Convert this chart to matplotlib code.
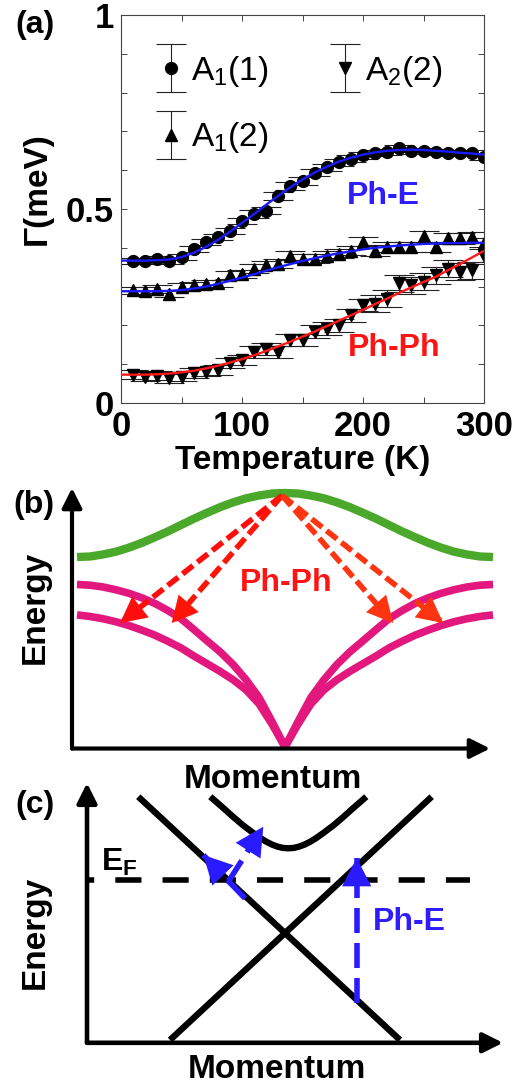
import matplotlib
matplotlib.use('Agg')
import matplotlib.pyplot as plt
from matplotlib.container import ErrorbarContainer
from matplotlib.legend_handler import HandlerErrorbar

plt.rcParams['font.family'] = ['Liberation Sans', 'DejaVu Sans']
plt.rcParams['mathtext.fontset'] = 'custom'
plt.rcParams['mathtext.rm'] = 'Liberation Sans'
plt.rcParams['mathtext.bf'] = 'Liberation Sans:bold'
plt.rcParams['mathtext.it'] = 'Liberation Sans:italic'

# ---------------- panel (a) data ----------------
temps = [10, 20, 30, 40, 50, 60, 70, 80, 90, 100, 110, 120, 130, 140, 150,
         160, 170, 180, 190, 200, 210, 220, 230, 240, 250, 260, 270, 280, 290, 300]

a1_1 = [0.367, 0.367, 0.372, 0.367, 0.376, 0.397, 0.415, 0.427, 0.444, 0.470,
        0.487, 0.496, 0.534, 0.560, 0.573, 0.594, 0.607, 0.620, 0.630, 0.638,
        0.644, 0.647, 0.656, 0.650, 0.650, 0.647, 0.645, 0.644, 0.644, 0.635]
a1_1_err = [0.008] * 10 + [0.010] * 10 + [0.008] * 10

a1_2 = [0.290, 0.288, 0.293, 0.282, 0.299, 0.303, 0.306, 0.308, 0.329, 0.333,
        0.346, 0.355, 0.359, 0.380, 0.372, 0.372, 0.380, 0.385, 0.393, 0.416,
        0.393, 0.402, 0.402, 0.402, 0.430, 0.402, 0.425, 0.425, 0.427, 0.412]
a1_2_err = [0.010] * 10 + [0.012] * 10 + [0.014] * 10

a2_2 = [0.073, 0.068, 0.070, 0.064, 0.068, 0.077, 0.081, 0.085, 0.103, 0.111,
        0.132, 0.139, 0.132, 0.162, 0.162, 0.184, 0.192, 0.200, 0.226, 0.252,
        0.256, 0.269, 0.308, 0.303, 0.312, 0.329, 0.346, 0.338, 0.342, 0.380]
a2_2_err = [0.012] * 10 + [0.016] * 10 + [0.022] * 10

fit_t = [0, 10, 20, 30, 40, 50, 60, 70, 80, 90, 100, 110, 120, 130, 140, 150,
         160, 170, 180, 190, 200, 210, 220, 230, 240, 250, 260, 270, 280, 290, 300]
fit_a1_1 = [0.367, 0.367, 0.367, 0.368, 0.370, 0.376, 0.387, 0.402, 0.420, 0.441,
            0.464, 0.487, 0.511, 0.534, 0.556, 0.576, 0.594, 0.609, 0.622, 0.632,
            0.640, 0.646, 0.650, 0.652, 0.653, 0.652, 0.650, 0.648, 0.645, 0.643, 0.640]
fit_a1_2 = [0.288, 0.288, 0.288, 0.288, 0.289, 0.291, 0.295, 0.300, 0.307, 0.315,
            0.323, 0.332, 0.341, 0.350, 0.358, 0.366, 0.373, 0.380, 0.386, 0.391,
            0.396, 0.400, 0.403, 0.406, 0.408, 0.410, 0.411, 0.412, 0.412, 0.413, 0.413]
fit_a2_2 = [0.073, 0.073, 0.073, 0.074, 0.076, 0.079, 0.083, 0.089, 0.096, 0.104,
            0.113, 0.123, 0.134, 0.146, 0.158, 0.171, 0.184, 0.198, 0.212, 0.226,
            0.240, 0.255, 0.269, 0.284, 0.298, 0.312, 0.325, 0.342, 0.358, 0.375, 0.392]

# ---------------- panel (b) schematic phonon bands (right half, mirrored) ----------------
k_half = [0.0, 0.0625, 0.125, 0.1875, 0.25, 0.3125, 0.375, 0.4375, 0.5,
          0.5625, 0.625, 0.6875, 0.75, 0.8125, 0.875, 0.9375, 1.0]
optical_half = [1.0, 0.998, 0.990, 0.979, 0.963, 0.944, 0.922, 0.899, 0.874,
                0.849, 0.826, 0.804, 0.785, 0.769, 0.758, 0.750, 0.748]
acoustic_hi_half = [0.0, 0.10, 0.195, 0.265, 0.325, 0.375, 0.418, 0.462, 0.505,
                    0.537, 0.565, 0.587, 0.605, 0.619, 0.630, 0.637, 0.640]
acoustic_lo_half = [0.0, 0.09, 0.17, 0.225, 0.265, 0.298, 0.328, 0.358, 0.39,
                    0.416, 0.44, 0.46, 0.478, 0.493, 0.505, 0.514, 0.520]
decay_start = (-0.014, 0.99)
decay_tips = [(-0.793, 0.488), (-0.545, 0.488), (0.52, 0.488), (0.761, 0.488)]
decay_colors = ['#ff0d0d', '#ff1408', '#ff3410', '#ff3410']

# ---------------- panel (c) schematic electron bands ----------------
dirac_1_k = [-1.487, 1.13]
dirac_1_e = [2.453, 0.02]
dirac_2_k = [-1.17, 1.447]
dirac_2_e = [0.02, 2.453]
upper_k = [-0.767, -0.637, -0.537, -0.437, -0.337, -0.267, -0.207, -0.147, -0.092,
           -0.042, 0.013, 0.068, 0.118, 0.173, 0.233, 0.293, 0.363, 0.463, 0.563,
           0.663, 0.793]
upper_e = [2.453, 2.34, 2.25, 2.165, 2.09, 2.04, 2.003, 1.973, 1.953,
           1.941, 1.937, 1.941, 1.953, 1.973, 2.003, 2.04, 2.09, 2.165, 2.25,
           2.34, 2.453]
fermi_level = 1.62
ph_e_arrows = [((0.697, 0.39), (0.697, 1.84)),
               ((-0.42, 1.437), (-0.837, 1.87)),
               ((-0.587, 1.603), (-0.237, 2.153))]

fig = plt.figure(figsize=(5.32, 10.84), dpi=100)
W, H = 532.0, 1084.0

# ================= (a) =================
axA = fig.add_axes([121 / W, 1 - 403 / H, 363 / W, 388 / H])
ebs = []
for y, err, m, lab in [(a1_1, a1_1_err, 'o', r'$\mathregular{A_1(1)}$'),
                       (a1_2, a1_2_err, '^', r'$\mathregular{A_1(2)}$'),
                       (a2_2, a2_2_err, 'v', r'$\mathregular{A_2(2)}$')]:
    eb = axA.errorbar(temps, y, yerr=err, fmt=m, color='k', ecolor='#222222',
                      ms=8.5, capsize=11, elinewidth=0.8, capthick=0.8,
                      label=lab, zorder=2)
    ebs.append(eb)
axA.plot(fit_t, fit_a1_1, color='#1a1aff', lw=1.7, zorder=3)
axA.plot(fit_t, fit_a1_2, color='#1a1aff', lw=1.7, zorder=3)
axA.plot(fit_t, fit_a2_2, color='#ff1a1a', lw=1.7, zorder=3)

axA.set_xlim(0, 300)
axA.set_ylim(0, 1)
axA.set_xticks([0, 100, 200, 300])
axA.set_xticks([50, 150, 250], minor=True)
axA.set_yticks([0, 0.5, 1])
axA.set_yticklabels(['0', '0.5', '1'])
axA.set_yticks([0.1, 0.2, 0.3, 0.4, 0.6, 0.7, 0.8, 0.9], minor=True)
axA.tick_params(which='both', direction='in', top=True, right=True,
                length=4, width=0.7, color='#444444')
axA.tick_params(axis='both', labelsize=25, pad=5)
for lbl in axA.get_xticklabels() + axA.get_yticklabels():
    lbl.set_fontweight('bold')
for sp in axA.spines.values():
    sp.set_linewidth(0.8)
    sp.set_color('#444444')

axA.text(217, 0.534, 'Ph-E', color='#2f1dff', fontsize=23, fontweight='bold',
         ha='center', va='center')
axA.text(226, 0.142, 'Ph-Ph', color='#ff1414', fontsize=23, fontweight='bold',
         ha='center', va='center')

axA.legend(handles=ebs, ncol=2, loc='upper left', bbox_to_anchor=(0.105, 0.90),
           frameon=False, fontsize=24, handlelength=0.7, handletextpad=0.25,
           columnspacing=1.95, labelspacing=0.95, borderaxespad=0, borderpad=0,
           handler_map={ErrorbarContainer: HandlerErrorbar(yerr_size=0.72)})

fig.text(15 / W, 1 - 25 / H, '(a)', fontsize=23, fontweight='bold', ha='left', va='center')
fig.text(37 / W, 1 - 189 / H, 'Γ(meV)', fontsize=24, fontweight='bold',
         rotation=90, ha='center', va='center')
fig.text(303 / W, 1 - 461 / H, 'Temperature (K)', fontsize=24, fontweight='bold',
         ha='center', va='center')


def axis_arrows(ax, x0, y0, x1, y1, lw, ms):
    ax.annotate('', xy=(x0, y1), xytext=(x0, y0),
                arrowprops=dict(arrowstyle='-|>', color='k', lw=lw,
                                mutation_scale=ms, shrinkA=0, shrinkB=0))
    ax.annotate('', xy=(x1, y0), xytext=(x0, y0),
                arrowprops=dict(arrowstyle='-|>', color='k', lw=lw,
                                mutation_scale=ms, shrinkA=0, shrinkB=0))


def dashed_arrow(ax, start, tip, color, lw, dashes, hl, hw, ms):
    ax.plot([start[0], tip[0]], [start[1], tip[1]], color=color, lw=lw,
            dashes=dashes, solid_capstyle='butt', dash_capstyle='butt', zorder=5)
    back = (tip[0] - 0.25 * (tip[0] - start[0]), tip[1] - 0.25 * (tip[1] - start[1]))
    ax.annotate('', xy=tip, xytext=back, zorder=6,
                arrowprops=dict(arrowstyle='-|>,head_length=%g,head_width=%g' % (hl, hw),
                                fc=color, ec=color, lw=0, mutation_scale=ms,
                                shrinkA=0, shrinkB=0))


# ================= (b) =================
axB = fig.add_axes([0, 1 - 790 / H, 1, 320 / H])
axB.set_xlim(-285 / 208, (W - 285) / 208)
axB.set_ylim((747 - 790) / 254, (747 - 470) / 254)
axB.axis('off')
k_left = [-k for k in k_half]
axB.plot(k_left[::-1] + k_half[1:], optical_half[::-1] + optical_half[1:],
         color='#4aa82a', lw=6, solid_capstyle='butt', zorder=2)
for branch in (acoustic_hi_half, acoustic_lo_half):
    axB.plot(k_left, branch, color='#e3187f', lw=5.5, solid_capstyle='butt', zorder=2)
    axB.plot(k_half, branch, color='#e3187f', lw=5.5, solid_capstyle='butt', zorder=2)
axis_arrows(axB, -1.024, -0.006, 0.986, 1.02, 3.0, 30)
for tip, c in zip(decay_tips, decay_colors):
    dashed_arrow(axB, decay_start, tip, c, 4.0, (2.4, 1.0), 0.78, 0.4, 24)
axB.text(0.008, 0.644, 'Ph-Ph', color='#ff1414', fontsize=23, fontweight='bold',
         ha='center', va='center')
fig.text(34 / W, 1 - 505 / H, '(b)', fontsize=23, fontweight='bold', ha='center', va='center')
fig.text(35 / W, 1 - 607 / H, 'Energy', fontsize=24, fontweight='bold',
         rotation=90, ha='center', va='center')
fig.text(273 / W, 1 - 779 / H, 'Momentum', fontsize=24, fontweight='bold',
         ha='center', va='center')

# ================= (c) =================
axC = fig.add_axes([0, 0, 1, 309 / H])
axC.set_xlim(-2.87, 2.45)
axC.set_ylim(-0.42, 2.67)
axC.axis('off')
for kk, ee in [(dirac_1_k, dirac_1_e), (dirac_2_k, dirac_2_e), (upper_k, upper_e)]:
    axC.plot(kk, ee, color='k', lw=4.6, solid_capstyle='butt', zorder=2)
axC.plot([-2.0, 1.83], [fermi_level, fermi_level], color='k', lw=4.0,
         linestyle=(3.4, (4.7, 3.8)), dash_capstyle='butt', zorder=1)
axis_arrows(axC, -2.0, -0.008, 2.16, 2.59, 3.3, 30)
for start, tip in ph_e_arrows:
    dashed_arrow(axC, start, tip, '#2a1aff', 4.0, (4.5, 1.8), 0.85, 0.44, 24)
axC.text(1.22, 1.195, 'Ph-E', color='#2f1dff', fontsize=23, fontweight='bold',
         ha='center', va='center')
axC.text(-1.86, 1.80, r'$\mathbf{E_F}$', fontsize=23, ha='left', va='center')
fig.text(35 / W, 1 - 805 / H, '(c)', fontsize=23, fontweight='bold', ha='center', va='center')
fig.text(35 / W, 1 - 932 / H, 'Energy', fontsize=24, fontweight='bold',
         rotation=90, ha='center', va='center')
fig.text(277 / W, 1 - 1070 / H, 'Momentum', fontsize=24, fontweight='bold',
         ha='center', va='center')

fig.savefig('out.png', dpi=100)
